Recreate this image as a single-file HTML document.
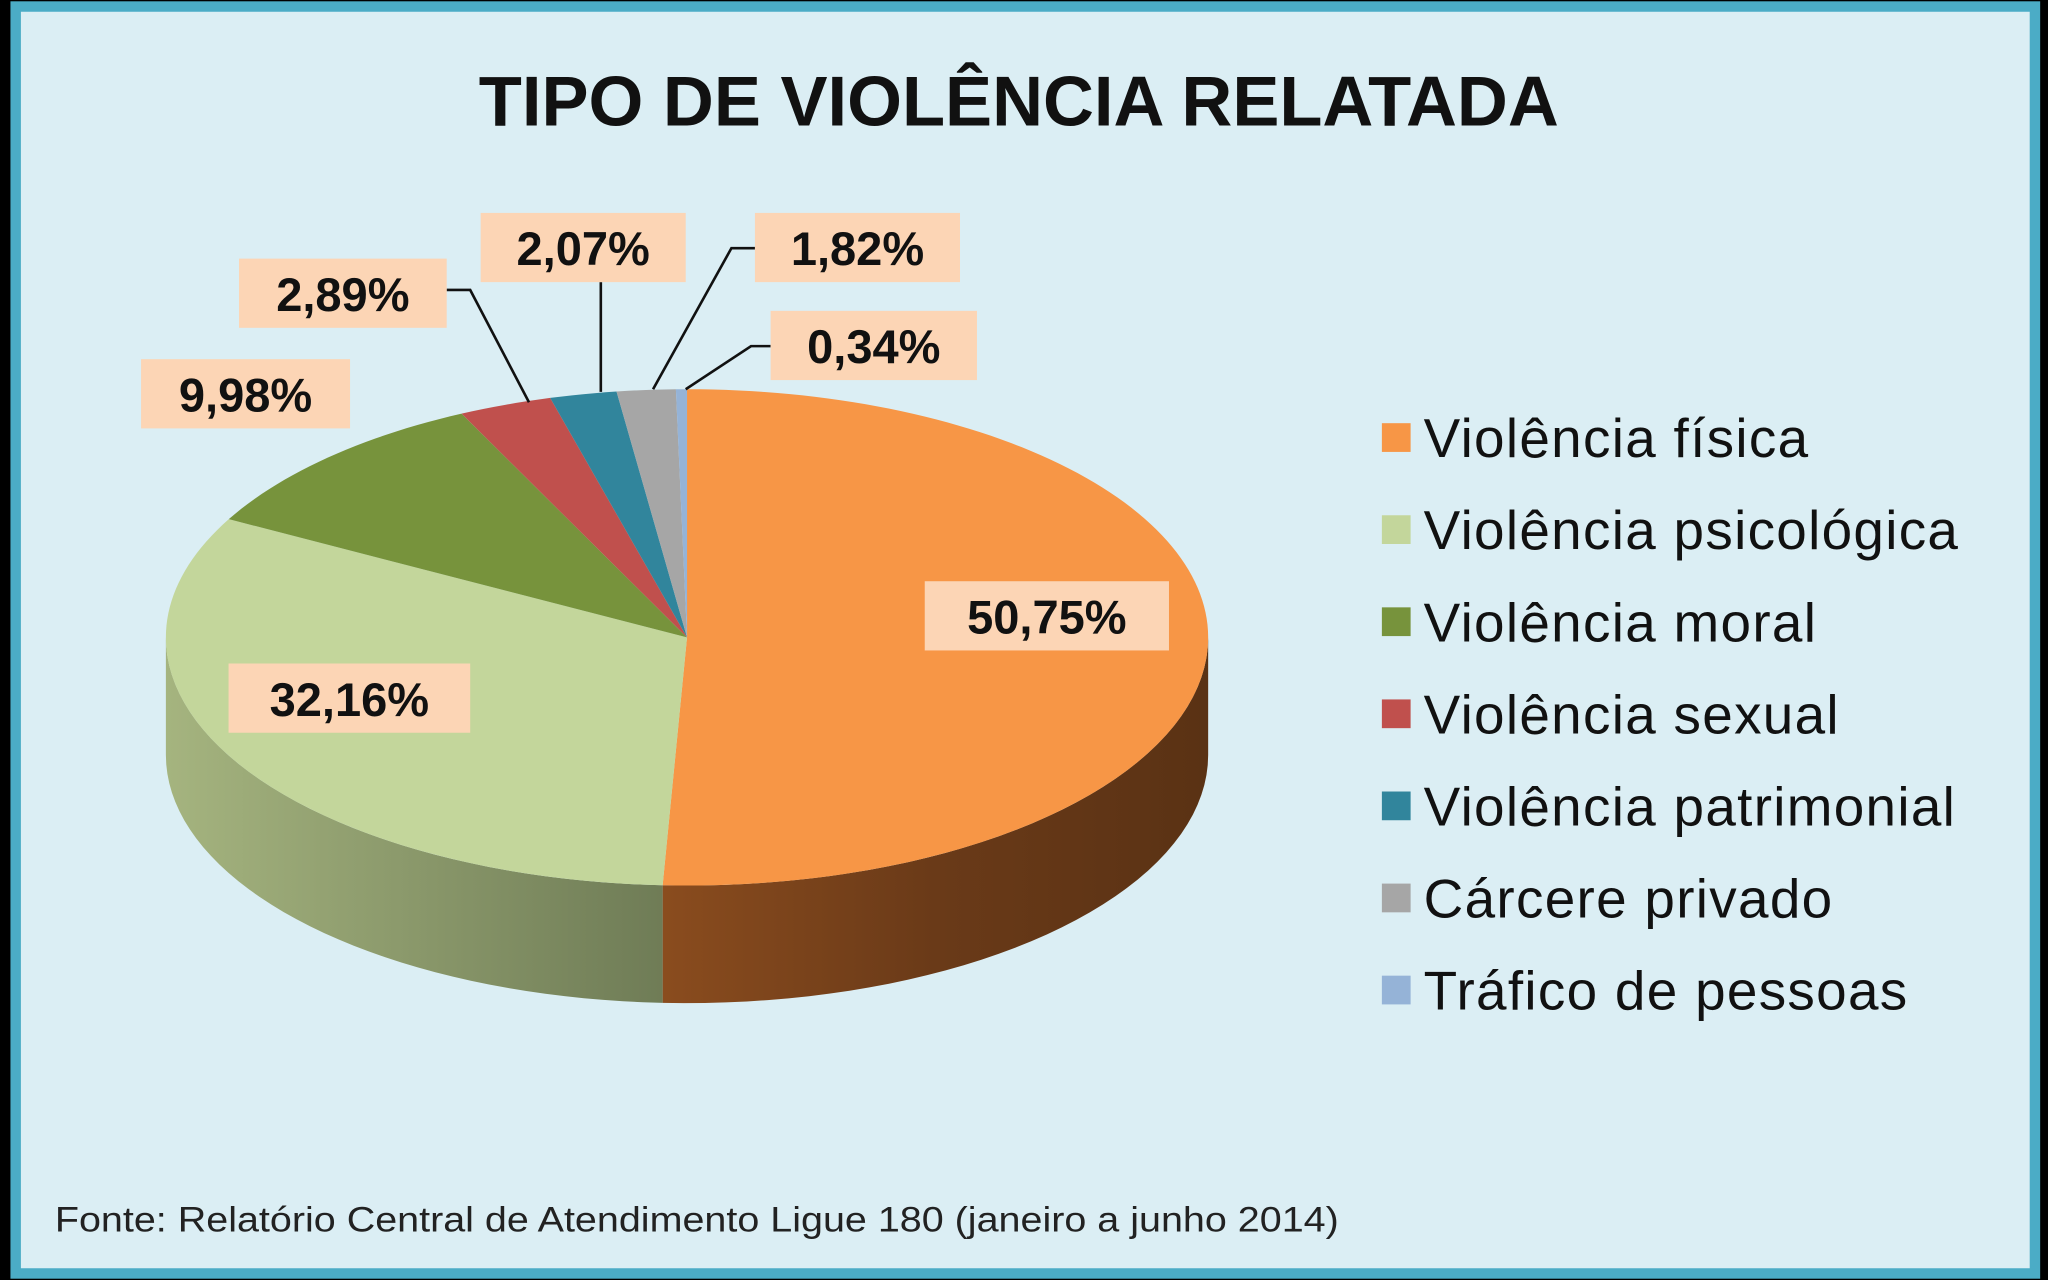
<!DOCTYPE html>
<html><head><meta charset="utf-8">
<style>
html,body{margin:0;padding:0;background:#000;width:2048px;height:1280px;overflow:hidden}
svg{display:block}
text{font-family:"Liberation Sans",sans-serif}
</style></head>
<body>
<svg id="chart" width="2048" height="1280" viewBox="0 0 1568 980" xmlns="http://www.w3.org/2000/svg">
<defs>
<linearGradient id="gOr" x1="0" x2="1" y1="0" y2="0"><stop offset="0" stop-color="#8a4c1e"/><stop offset="0.5" stop-color="#6a3a18"/><stop offset="1" stop-color="#5a3214"/></linearGradient>
<linearGradient id="gGr" x1="0" x2="1" y1="0" y2="0"><stop offset="0" stop-color="#a5b47f"/><stop offset="1" stop-color="#6f7c56"/></linearGradient>
</defs>
<rect x="12" y="5" width="1546" height="970" fill="#dbeef4" stroke="#4bacc6" stroke-width="8"/>
<text x="780" y="96" text-anchor="middle" font-size="54" font-weight="bold" fill="#111">TIPO DE VIOLÊNCIA RELATADA</text>
<g id="pie"></g>
<g id="labels"></g>
<g id="legend"></g>
<text x="42" y="943" font-size="27" fill="#222" textLength="983" lengthAdjust="spacingAndGlyphs">Fonte: Relatório Central de Atendimento Ligue 180 (janeiro a junho 2014)</text>
</svg>
<script>
const categories=["Violência física","Violência psicológica","Violência moral","Violência sexual","Violência patrimonial","Cárcere privado","Tráfico de pessoas"];
const values=[50.75,32.16,9.98,2.89,2.07,1.82,0.34];
const valueLabels=["50,75%","32,16%","9,98%","2,89%","2,07%","1,82%","0,34%"];
const colors=["#f79646","#c3d69b","#77933c","#c0504d","#31859c","#a6a6a6","#95b3d7"];
const sides=["url(#gOr)","url(#gGr)","#55702c","#8a3a38","#24606f","#777","#6a80a0"];
const NS="http://www.w3.org/2000/svg";
const cx=526,cy=488,rx=399,ry=190,depth=90;
function pt(a,dy){return [cx+rx*Math.sin(a),cy-ry*Math.cos(a)+(dy||0)];}
function mk(tag,attrs,parent){const e=document.createElementNS(NS,tag);for(const k in attrs)e.setAttribute(k,attrs[k]);parent.appendChild(e);return e;}
const pie=document.getElementById('pie');
const total=values.reduce((a,b)=>a+b,0);
let acc=0;const angs=[];
values.forEach(v=>{const a0=acc/total*2*Math.PI;acc+=v;angs.push([a0,acc/total*2*Math.PI]);});
angs.forEach(([a0,a1],i)=>{
  const s=Math.max(a0,Math.PI/2),e=Math.min(a1,3*Math.PI/2);
  if(e<=s)return;
  let d="";const n=40;
  for(let k=0;k<=n;k++){const p=pt(s+(e-s)*k/n);d+=(k?"L":"M")+p[0]+","+p[1];}
  for(let k=n;k>=0;k--){const p=pt(s+(e-s)*k/n,depth);d+="L"+p[0]+","+p[1];}
  const el=mk('path',{d:d+"Z",fill:sides[i]},pie);
  
  
});
angs.forEach(([a0,a1],i)=>{
  let d="M"+cx+","+cy;const n=Math.max(4,Math.ceil((a1-a0)*40));
  for(let k=0;k<=n;k++){const p=pt(a0+(a1-a0)*k/n);d+="L"+p[0]+","+p[1];}
  const el=mk('path',{d:d+"Z",fill:colors[i]},pie);
  
  
});
const lab=document.getElementById('labels');
const boxes=[[708,445,187],[175,508,185],[108,275,160],[183,198,159],[368,163,157],[578,163,157],[590,238,158]];
const leaders=[null,null,null,"342,222 360,222 405,308","460,216 460,300","578,190 560,190 500,298","590,265 575,265 525,298"];
boxes.forEach((b,i)=>{
  if(leaders[i]){const l=mk('polyline',{points:leaders[i],fill:"none",stroke:"#111","stroke-width":2},lab);
    
    }
  const r=mk('rect',{x:b[0],y:b[1],width:b[2],height:53,fill:"#fcd5b5"},lab);
  
  
  const t=mk('text',{x:b[0]+b[2]/2,y:b[1]+40,"text-anchor":"middle","font-size":36,"font-weight":"bold",fill:"#111"},lab);
  t.textContent=valueLabels[i];
  
  
});
const lg=document.getElementById('legend');
categories.forEach((c,i)=>{
  const y=335+i*70.5;
  const s=mk('rect',{x:1058,y:y-11,width:22,height:22,fill:colors[i]},lg);
  
  
  const t=mk('text',{x:1090,y:y+15,"font-size":42,"letter-spacing":1,fill:"#111"},lg);
  t.textContent=c;
  
  
});
</script>
</body></html>
